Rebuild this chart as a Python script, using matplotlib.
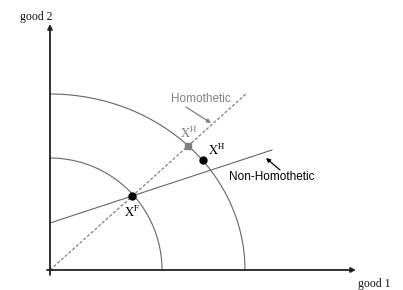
import numpy as np
import matplotlib
matplotlib.use("Agg")
import matplotlib.pyplot as plt

plt.rcParams['mathtext.fontset'] = 'stix'

# Indifference / budget curves (quarter ellipses): semi-axes
small_arc = (112, 112)
large_arc = (195, 176)
# Expansion paths
homothetic_line = ([0, 197], [0, 177])
nonhomothetic_line = ([0, 222], [47, 120])
# Points
XF = (82, 74)
XH_hom = (138, 124)
XH_non = (153, 110)
# Axis extents
x_axis = ([-3, 303], [0, 0])
y_axis = ([0, 0], [-5, 243])

fig = plt.figure(figsize=(4.03, 2.90), dpi=100)
ax = fig.add_axes([0, 0, 1, 1])
ax.set_xlim(-50, 353)
ax.set_ylim(-20, 270)
ax.axis('off')

# arcs
t = np.linspace(0, np.pi / 2, 200)
for a, b in (small_arc, large_arc):
    ax.plot(a * np.cos(t), b * np.sin(t), color='#666666', lw=0.8)

# homothetic dashed line
ax.plot(*homothetic_line, color='#808080', lw=0.9, ls=(0, (2.5, 1.5)))
# non-homothetic line
ax.plot(*nonhomothetic_line, color='#666666', lw=0.8)

# axes with arrows
ax.annotate('', xy=(x_axis[0][1] + 3, 0), xytext=(x_axis[0][0], 0),
            arrowprops=dict(arrowstyle='-|>', color='#222222', lw=1.3,
                            mutation_scale=7, shrinkA=0, shrinkB=0))
ax.annotate('', xy=(0, y_axis[1][1] + 3), xytext=(0, y_axis[1][0]),
            arrowprops=dict(arrowstyle='-|>', color='#222222', lw=1.3,
                            mutation_scale=7, shrinkA=0, shrinkB=0))

# points
ax.plot(*XF, 'o', color='black', ms=5, zorder=5)
ax.plot(*XH_non, 'o', color='black', ms=5, zorder=5)
ax.plot(*XH_hom, 's', color='#808080', ms=4.5, zorder=5)

# labels
ax.text(-14, 253, 'good 2', family='Liberation Serif', fontsize=8.5,
        ha='center', va='center', color='#111111')
ax.text(324, -14, 'good 1', family='Liberation Serif', fontsize=8.5,
        ha='center', va='center', color='#111111')
ax.text(151, 171, 'Homothetic', family='Liberation Sans', fontsize=8.5,
        ha='center', va='center', color='#808080')
ax.text(222, 93, 'Non-Homothetic', family='Liberation Sans', fontsize=8.5,
        ha='center', va='center', color='black')
ax.text(139, 137, r'$\mathrm{X}^{\mathrm{H}}$', fontsize=9,
        ha='center', va='center', color='#808080')
ax.text(167, 120, r'$\mathrm{X}^{\mathrm{H}}$', fontsize=9,
        ha='center', va='center', color='black')
ax.text(82, 58, r'$\mathrm{X}^{\mathrm{F}}$', fontsize=9,
        ha='center', va='center', color='black')

# pointer arrows
ax.annotate('', xy=(161, 147), xytext=(136, 163),
            arrowprops=dict(arrowstyle='-|>', color='#808080', lw=0.9,
                            mutation_scale=6, shrinkA=0, shrinkB=0))
ax.annotate('', xy=(216, 112), xytext=(230, 100),
            arrowprops=dict(arrowstyle='-|>', color='black', lw=0.9,
                            mutation_scale=6, shrinkA=0, shrinkB=0))

fig.savefig('out.png', dpi=100)
